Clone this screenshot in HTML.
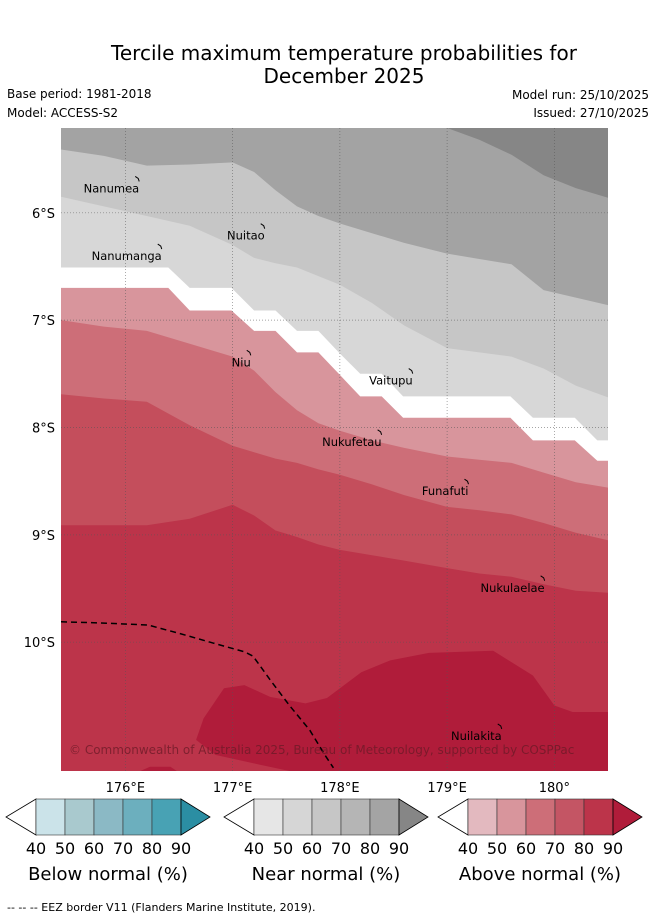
<!DOCTYPE html>
<html><head><meta charset="utf-8">
<style>
body{margin:0;background:#fff;width:655px;height:919px;overflow:hidden;font-family:"Liberation Sans","DejaVu Sans",sans-serif;}
svg text{font-family:"DejaVu Sans","Liberation Sans",sans-serif;}
</style></head>
<body>
<svg id="chart" width="655" height="919" xmlns="http://www.w3.org/2000/svg">
<text x="344" y="60" font-size="20" text-anchor="middle">Tercile maximum temperature probabilities for</text>
<text x="344" y="83" font-size="20" text-anchor="middle">December 2025</text>
<text x="7" y="98" font-size="12">Base period: 1981-2018</text>
<text x="7" y="117" font-size="12">Model: ACCESS-S2</text>
<text x="649" y="99" font-size="12" text-anchor="end">Model run: 25/10/2025</text>
<text x="649" y="117" font-size="12" text-anchor="end">Issued: 27/10/2025</text>
<defs><clipPath id="mapclip"><rect x="61" y="128" width="547" height="643"/></clipPath></defs>
<g id="map" clip-path="url(#mapclip)"></g>
<g id="overlay"></g>
</svg>
<script>
const X0=61,X1=608,Y0=128,Y1=771;
const LON0=175.4,LON1=180.5,LAT0=5.21,LAT1=11.2;
const lons=[175.4,175.8,176.2,176.6,177.0,177.2,177.4,177.6,177.8,178.0,178.3,178.6,179.0,179.3,179.6,179.9,180.2,180.5];
const b1Lon=[175.4,178.99,179.0,179.3,179.6,179.9,180.2,180.5];
const b1Lat=[5.0,5.0,5.21,5.32,5.46,5.65,5.77,5.86];
const b2Lat=[5.41,5.47,5.56,5.55,5.53,5.62,5.79,5.94,6.03,6.10,6.19,6.28,6.38,6.43,6.48,6.72,6.79,6.86];
const b3Lat=[5.85,5.94,6.03,6.12,6.30,6.42,6.47,6.51,6.59,6.67,6.84,7.05,7.26,7.30,7.34,7.45,7.61,7.72];
const stepLon=[175.40,176.40,176.60,176.99,177.20,177.40,177.60,177.80,177.99,178.19,178.39,178.59,179.59,179.80,180.19,180.40,180.50];
const grayBottomLat=[6.51,6.51,6.70,6.70,6.91,6.91,7.10,7.10,7.30,7.50,7.50,7.71,7.71,7.91,7.91,8.12,8.12];
const pinkTopLat=[6.70,6.70,6.91,6.91,7.10,7.10,7.30,7.30,7.50,7.71,7.71,7.91,7.91,8.12,8.12,8.31,8.31];
const b5Lat=[7.00,7.06,7.10,7.22,7.34,7.47,7.67,7.84,7.96,8.03,8.12,8.19,8.27,8.30,8.33,8.42,8.51,8.56];
const b6Lat=[7.69,7.73,7.76,7.98,8.17,8.23,8.29,8.33,8.39,8.44,8.53,8.63,8.74,8.77,8.81,8.89,8.98,9.05];
const b7Lat=[8.91,8.91,8.91,8.85,8.72,8.82,8.96,9.02,9.09,9.14,9.19,9.24,9.31,9.36,9.39,9.46,9.52,9.54];
const blobLon=[176.66,176.73,176.92,177.11,177.35,177.68,177.88,178.20,178.47,178.83,179.43,179.80,180.00,180.17,180.50,180.50,177.53,177.25,176.84];
const blobLat=[10.91,10.71,10.43,10.40,10.51,10.57,10.52,10.28,10.17,10.10,10.08,10.31,10.59,10.65,10.65,11.20,11.20,11.14,11.05];
const blob2Lon=[176.14,176.23,176.42,176.48];
const blob2Lat=[11.20,11.16,11.16,11.20];
const eezLon=[175.40,175.76,176.21,176.51,176.79,177.11,177.19,177.35,177.53,177.72,177.86,177.94];
const eezLat=[9.81,9.82,9.84,9.92,10.00,10.09,10.13,10.35,10.59,10.82,11.05,11.17];
const lonTicks=[176,177,178,179,180];
const lonTickLabels=["176°E","177°E","178°E","179°E","180°"];
const latTicks=[6,7,8,9,10];
const latTickLabels=["6°S","7°S","8°S","9°S","10°S"];
const islandNames=["Nanumea","Nuitao","Nanumanga","Niu","Vaitupu","Nukufetau","Funafuti","Nukulaelae","Nuilakita"];
const islandLon=[176.12,177.29,176.33,177.16,178.67,178.38,179.19,179.90,179.50];
const islandLat=[5.68,6.12,6.31,7.30,7.47,8.04,8.50,9.40,10.78];

const NS='http://www.w3.org/2000/svg';
const xs=l=>X0+(l-LON0)/(LON1-LON0)*(X1-X0);
const ys=l=>Y0+(l-LAT0)/(LAT1-LAT0)*(Y1-Y0);
const map=document.getElementById('map');
const ov=document.getElementById('overlay');
function mk(tag,attrs,parent){const e=document.createElementNS(NS,tag);for(const k in attrs)e.setAttribute(k,attrs[k]);parent.appendChild(e);return e;}
function above(lo,la,color,name){
  let d='M'+X0+','+(Y0-20)+' L'+X0+','+ys(la[0]);
  for(let i=0;i<lo.length;i++)d+=' L'+xs(lo[i]).toFixed(1)+','+ys(la[i]).toFixed(1);
  d+=' L'+X1+','+(Y0-20)+'Z';
  const p=mk('path',{d:d,fill:color},map);
  
  
}
function poly(lo,la,color,name){
  let d='';for(let i=0;i<lo.length;i++)d+=(i?' L':'M')+xs(lo[i]).toFixed(1)+','+ys(la[i]).toFixed(1);
  const p=mk('path',{d:d+'Z',fill:color},map);
  
  
}
const base=mk('rect',{x:X0,y:Y0,width:X1-X0,height:Y1-Y0,fill:'#bc344a'},map);


above(lons,b7Lat,'#c44e5c','above-70-80-region');
above(lons,b6Lat,'#cd6e78','above-60-70-region');
above(lons,b5Lat,'#d8959c','above-50-60-region');
above(stepLon,pinkTopLat,'#ffffff','no-dominant-region');
above(stepLon,grayBottomLat,'#d7d7d7','near-50-60-region');
above(lons,b3Lat,'#c6c6c6','near-60-70-region');
above(lons,b2Lat,'#a3a3a3','near-80-90-region');
above(b1Lon,b1Lat,'#868686','near-90-region');
poly(blobLon,blobLat,'#b01c3a','above-90-region');
poly(blob2Lon,blob2Lat,'#b01c3a','above-90-region-small');
lonTicks.forEach((l,i)=>{
  const g=mk('line',{x1:xs(l),x2:xs(l),y1:Y0,y2:Y1,stroke:'#555','stroke-width':0.7,'stroke-dasharray':'1,2',opacity:0.7},map);
  
  
  const t=mk('text',{x:xs(l),y:792,'font-size':13,'text-anchor':'middle'},ov);t.textContent=lonTickLabels[i];
  
  
});
latTicks.forEach((l,i)=>{
  const g=mk('line',{x1:X0,x2:X1,y1:ys(l),y2:ys(l),stroke:'#555','stroke-width':0.7,'stroke-dasharray':'1,2',opacity:0.7},map);
  
  
  const t=mk('text',{x:55,y:ys(l)+5,'font-size':13,'text-anchor':'end'},ov);t.textContent=latTickLabels[i];
  
  
});
let ed='';eezLon.forEach((l,i)=>ed+=(i?' L':'M')+xs(l).toFixed(1)+','+ys(eezLat[i]).toFixed(1));
const eez=mk('path',{d:ed,fill:'none',stroke:'#000','stroke-width':1.5,'stroke-dasharray':'6,4'},map);


islandNames.forEach((n,i)=>{
  const x=xs(islandLon[i]),y=ys(islandLat[i]);
  const m=mk('path',{d:`M${x-3},${y-2} L${x},${y} L${x+1},${y+3}`,fill:'none',stroke:'#000','stroke-width':1},map);
  
  
  const t=mk('text',{x:x+1,y:y+14,'font-size':11.5,'text-anchor':'end',fill:'#000'},map);t.textContent=n;
  
  
});
const cp=mk('text',{x:69,y:754,'font-size':12,fill:'#6a1a26',opacity:0.75},map);
cp.textContent='© Commonwealth of Australia 2025, Bureau of Meteorology, supported by COSPPac';


const cbColors=[
 ['#cbe3e9','#a9c9ce','#8bb9c5','#6cafbe','#48a2b4','#2b8ea3'],
 ['#e6e6e6','#d6d6d6','#c6c6c6','#b5b5b5','#a4a4a4','#868686'],
 ['#e3b9bf','#d8959c','#cd6e78','#c45564','#bc344a','#b01c3a']];
const cbTitles=['Below normal (%)','Near normal (%)','Above normal (%)'];
const cbTicks=['40','50','60','70','80','90'];
const cbLeft=[36,254,468];
cbLeft.forEach((L,k)=>{
  const g=mk('g',{},ov);
  
  
  const w=29,top=799,bot=835,mid=817;
  mk('path',{d:`M${L},${top} L${L-30},${mid} L${L},${bot}Z`,fill:'#fff',stroke:'#000','stroke-width':0.8},g);
  for(let i=0;i<5;i++)mk('rect',{x:L+i*w,y:top,width:w,height:bot-top,fill:cbColors[k][i],stroke:'#333','stroke-width':0.6},g);
  mk('path',{d:`M${L+5*w},${top} L${L+5*w+29},${mid} L${L+5*w},${bot}Z`,fill:cbColors[k][5],stroke:'#000','stroke-width':0.8},g);
  cbTicks.forEach((t,i)=>{const e=mk('text',{x:L+i*w,y:854,'font-size':16,'text-anchor':'middle'},g);e.textContent=t;});
  const tt=mk('text',{x:L+72,y:880,'font-size':18,'text-anchor':'middle'},g);tt.textContent=cbTitles[k];
});
const ft=mk('text',{x:7,y:911,'font-size':11},ov);
ft.textContent='-- -- -- EEZ border V11 (Flanders Marine Institute, 2019).';


</script>
</body></html>
